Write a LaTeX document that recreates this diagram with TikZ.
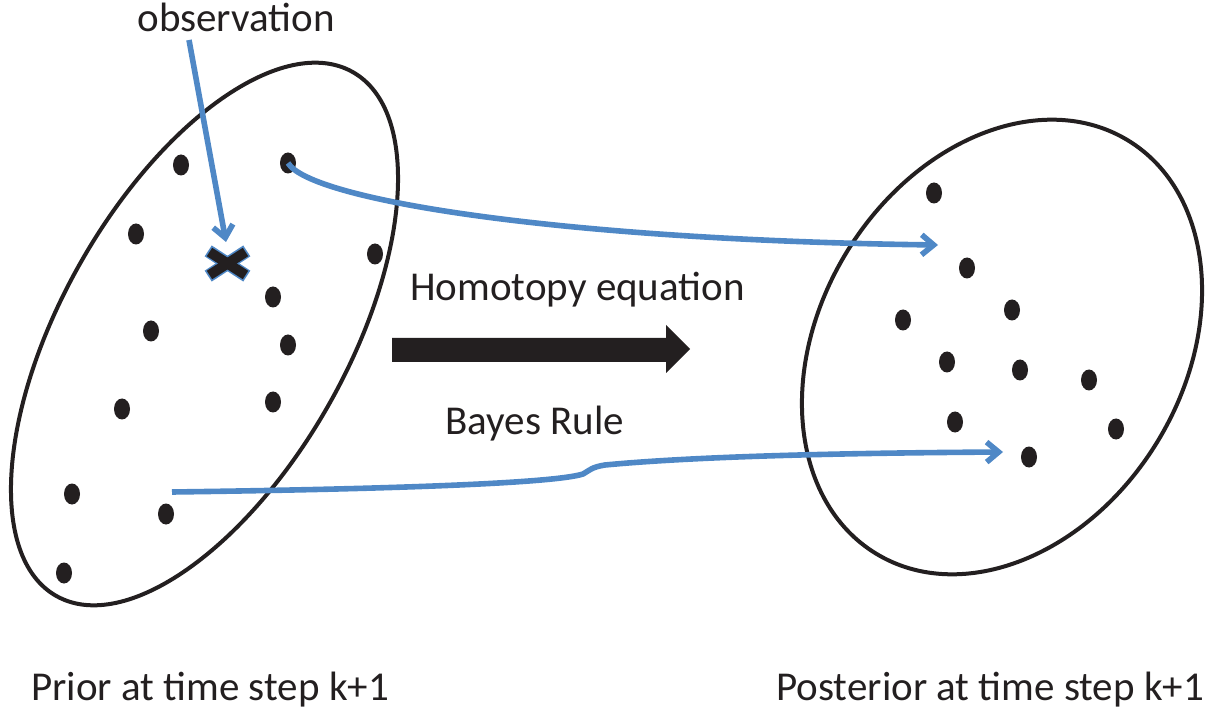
\documentclass[tikz,border=0pt]{standalone}
\usepackage{fontspec}
\setmainfont{Carlito}
\usetikzlibrary{arrows.meta,shapes.geometric,calc}
\definecolor{ink}{RGB}{35,31,32}
\definecolor{lblue}{RGB}{79,136,198}
\begin{document}
\begin{tikzpicture}[x=0.5pt,y=-0.5pt,
  ell/.style={draw=ink,line width=2pt},
  dot/.style={ellipse,fill=ink,minimum width=8pt,minimum height=10.5pt,inner sep=0pt},
  conn/.style={draw=lblue,line width=2.8pt,-{Straight Barb[length=6pt,width=10pt]}},
  lbl/.style={text=ink,font=\fontsize{20.5}{24}\selectfont,inner sep=0pt,anchor=base west}]
\useasboundingbox (0,0) rectangle (1211,711);
% ellipses
\draw[ell, rotate around={60.5:(204.5,334)}] (204.5,334) ellipse [x radius=301, y radius=143];
\draw[ell, rotate around={58.6:(1002,347)}] (1002,347) ellipse [x radius=242, y radius=182];
% texts
\node[lbl] (obs) at (137,32) {observation};
\node[lbl] (hom) at (410,301) {Homotopy equation};
\node[lbl] (bay) at (445,435) {Bayes Rule};
\node[lbl] (pri) at (31,700) {Prior at time step k+1};
\node[lbl] (pos) at (776,700) {Posterior at time step k+1};
% big arrow
\fill[ink] (392,338) -- (666,338) -- (666,325) -- (690,349) -- (666,373) -- (666,362) -- (392,362) -- cycle;
% X mark
\draw[lblue,line width=6.5pt] (208.2,250.9) -- (246.8,276.1);
\draw[lblue,line width=6.5pt] (208.2,276.1) -- (246.8,250.9);
\draw[ink,line width=5pt] (209.5,252) -- (245.5,275);
\draw[ink,line width=5pt] (209.5,275) -- (245.5,252);
% coordinates
\coordinate (os) at (189,40);
\coordinate (xt) at (226,242);
\coordinate (t1) at (938,245);
\coordinate (b0) at (172,492);
\coordinate (b1) at (1003,452);
% left dots
\node[dot] (l1) at (181,165) {};
\node[dot] (l2) at (288,163) {};
\node[dot] (l3) at (136,234) {};
\node[dot] (l4) at (375,254) {};
\node[dot] (l5) at (273,297) {};
\node[dot] (l6) at (151,331) {};
\node[dot] (l7) at (288,345) {};
\node[dot] (l8) at (122,409) {};
\node[dot] (l9) at (273,402) {};
\node[dot] (l10) at (72,494) {};
\node[dot] (l11) at (166,514) {};
\node[dot] (l12) at (64,573) {};
% right dots
\node[dot] (r1) at (934,193) {};
\node[dot] (r2) at (967,268) {};
\node[dot] (r3) at (1012,310) {};
\node[dot] (r4) at (903,320) {};
\node[dot] (r5) at (947,362) {};
\node[dot] (r6) at (1020,370) {};
\node[dot] (r7) at (1089,380) {};
\node[dot] (r8) at (955,422) {};
\node[dot] (r9) at (1116,429) {};
\node[dot] (r10) at (1029,457) {};
% connectors
\draw[conn] (os) -- (xt);
\draw[conn] (l2.center) .. controls (310,200) and (560,240) .. (t1);
\draw[conn] (b0) .. controls (400,489) and (555,483) .. (583,474)
  .. controls (590,470) and (592,467) .. (605,465)
  .. controls (700,456) and (850,453) .. (b1);
\end{tikzpicture}
\end{document}
